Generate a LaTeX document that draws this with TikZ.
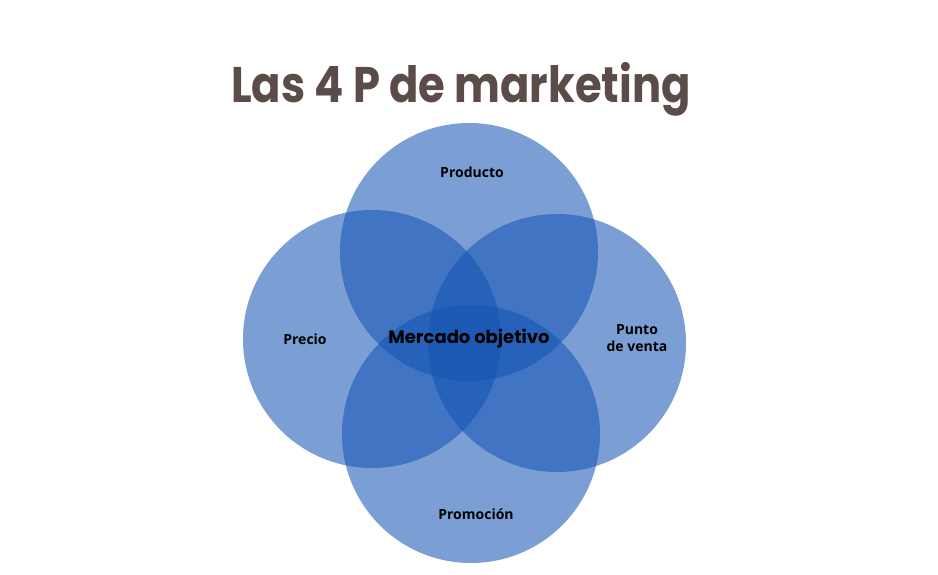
\documentclass[tikz,border=0pt]{standalone}
\usepackage{fontspec}
\setmainfont{Open Sans}
\newfontfamily\titlefont{Poppins}
\definecolor{vennblue}{RGB}{20,84,180}
\definecolor{titlecol}{RGB}{91,75,73}
\tikzset{
  venn/.style={fill=vennblue, fill opacity=0.56},
  lbl/.style={font=\fontsize{14}{17}\selectfont\bfseries, text=black, align=center, inner sep=0pt},
}
\begin{document}
\begin{tikzpicture}[x=1pt,y=-1pt]
\useasboundingbox[fill=white] (0,0) rectangle (938,575);
\fill[venn] (469,252) circle (129);
\fill[venn] (372,339) circle (129);
\fill[venn] (557,343) circle (129);
\fill[venn] (471,434) circle (129);
\node[font=\titlefont\bfseries\fontsize{50}{60}\selectfont, text=titlecol, anchor=base, inner sep=0pt, xscale=0.866] (title) at (461,103) {Las 4 P de marketing};
\node[lbl] (producto) at (472,172) {Producto};
\node[lbl] (precio) at (305,339) {Precio};
\node[lbl] (punto) at (637,338) {Punto\\de venta};
\node[lbl] (promocion) at (476,514) {Promoción};
\node[font=\titlefont\bfseries\fontsize{18}{21}\selectfont, text=black, inner sep=0pt] (mercado) at (469,339) {Mercado objetivo};
\end{tikzpicture}
\end{document}
